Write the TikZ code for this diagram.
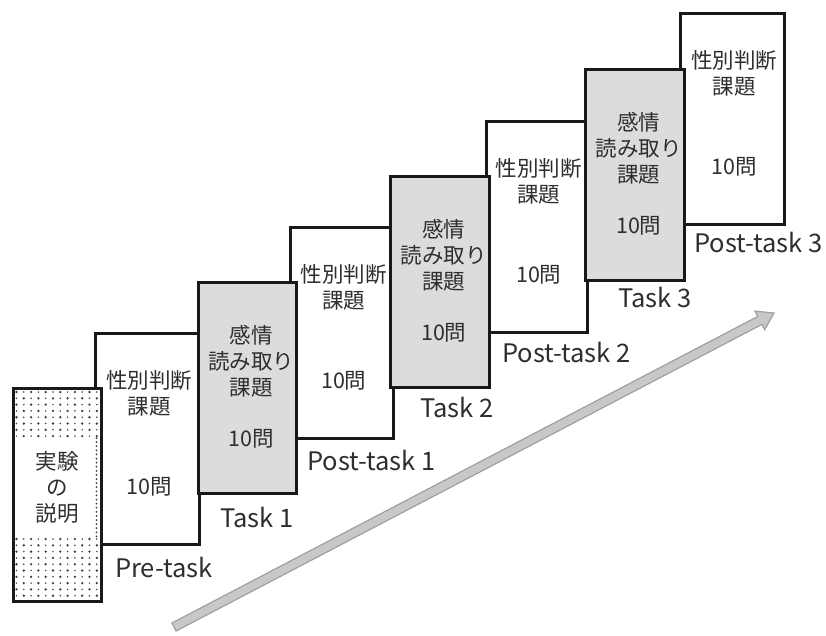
\documentclass[tikz,border=0pt]{standalone}
\usepackage{fontspec}
\setmainfont{Noto Sans CJK JP}
\usetikzlibrary{calc}
\definecolor{boxgray}{HTML}{DCDCDC}
\definecolor{txt}{HTML}{2E2E2E}
\definecolor{arrfill}{HTML}{C8C8C8}
\definecolor{arredge}{HTML}{A0A0A0}
\begin{document}
\begin{tikzpicture}[x=1pt,y=-1pt,
  box/.style={draw=black!90,line width=2.5pt,fill=white,minimum width=#1,inner sep=0pt,minimum height=211pt,anchor=north west},
  graybox/.style={box=#1,fill=boxgray},
  jp/.style={text=txt,font=\fontsize{21.5}{26}\selectfont,align=center,inner sep=0pt},
  lab/.style={text=txt,font=\fontsize{25.5}{30}\selectfont,anchor=west,inner sep=0pt},
  dotc/.style={fill=black!75}]
\useasboundingbox (0,0) rectangle (826,635);
% white boxes
\node[box=104pt] (b1) at (94,332) {};
\node[box=103pt] (b3) at (289,226) {};
\node[box=101pt] (b5) at (485,120) {};
\node[box=104pt] (b7) at (679,12) {};
% gray boxes
\node[graybox=98pt] (b2) at (197,281) {};
\node[graybox=99pt] (b4) at (389,175) {};
\node[graybox=99pt] (b6) at (584,68) {};
% explanation box
\node[box=88pt,minimum height=213pt] (b0) at (12,387) {};
\foreach \r in {0,...,7} {
  \foreach \c in {0,...,11} {
    \pgfmathsetmacro{\rad}{mod(\r+\c,2)==0 ? 1.3 : 0.85}
    \fill[dotc] (16.5+\c*7.3, 392+\r*6.3) circle (\rad pt);
  }
}
\foreach \r in {0,...,9} {
  \foreach \c in {0,...,11} {
    \pgfmathsetmacro{\rad}{mod(\r+\c,2)==0 ? 1.3 : 0.85}
    \fill[dotc] (16.5+\c*7.3, 539+\r*6.3) circle (\rad pt);
  }
}
\foreach \r in {0,...,24} {
  \fill[dotc] (96.5, 438+\r*4.1) circle (1pt);
}
\node[jp] (t0) at ([yshift=-100pt]b0.north) {実験\\の\\説明};
% white box texts
\foreach \b in {b1,b3,b5,b7} {
  \node[jp] (\b a) at ([xshift=2pt,yshift=-61pt]\b.north) {性別判断\\課題};
  \node[jp] (\b n) at ([xshift=2pt,yshift=-155pt]\b.north) {10問};
}
% gray box texts
\foreach \b in {b2,b4,b6} {
  \node[jp] (\b a) at ([xshift=4pt,yshift=-80pt]\b.north) {感情\\読み取り\\課題};
  \node[jp] (\b n) at ([xshift=4pt,yshift=-158pt]\b.north) {10問};
}
% labels
\node[lab] (l1) at (115,568) {Pre-task};
\node[lab] (l2) at (220,518) {Task 1};
\node[lab] (l3) at (307,461) {Post-task 1};
\node[lab] (l4) at (420,408) {Task 2};
\node[lab] (l5) at (502,353) {Post-task 2};
\node[lab] (l6) at (618,298) {Task 3};
\node[lab] (l7) at (694,243) {Post-task 3};
% arrow
\coordinate (as) at (174,627);
\coordinate (at) at (774,313);
\coordinate (ab) at ($(at)!16pt!(as)$);
\filldraw[fill=arrfill,draw=arredge,line width=1.2pt,line join=miter]
  ($(as)!4.5pt!90:(at)$) -- ($(ab)!4.5pt!-90:(as)$) -- ($(ab)!10.5pt!-90:(as)$)
  -- (at) -- ($(ab)!10.5pt!90:(as)$) -- ($(ab)!4.5pt!90:(as)$) -- ($(as)!4.5pt!-90:(at)$) -- cycle;
\end{tikzpicture}
\end{document}
